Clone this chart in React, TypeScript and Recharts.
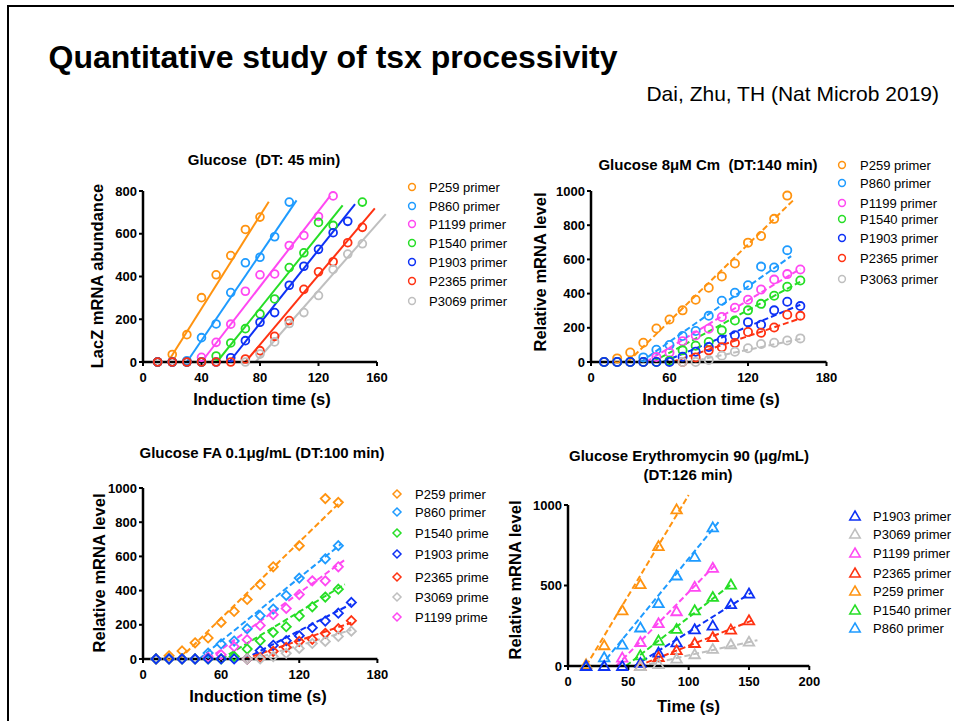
import React from 'react';
import { ScatterChart, Scatter, XAxis, YAxis, ReferenceLine } from 'recharts';

const FONT = '"Liberation Sans", Arial, Helvetica, sans-serif';

const ORANGE = '#FF9310';
const LBLUE = '#1E9BFF';
const MAGENTA = '#FF48F2';
const GREEN = '#26DE26';
const BLUE = '#0D31F5';
const RED = '#FF3212';
const GRAY = '#BFBFBF';

// ---------- Panel 1: Glucose (DT: 45 min) ----------
const p1X = [10, 20, 30, 40, 50, 60, 70, 80, 90, 100, 110, 120, 130, 140, 150];
const p1P259 = [0, 35, 128, 301, 408, 498, 620, 678];
const p1P860 = [0, 0, 6, 114, 178, 325, 464, 490, 586, 748];
const p1P1199 = [0, 0, 0, 22, 92, 177, 331, 408, 412, 545, 592, 681, 777];
const p1P1540 = [0, 0, 0, 0, 28, 89, 156, 225, 295, 442, 511, 653, 639, null, 748];
const p1P1903 = [0, 0, 0, 0, 0, 20, 100, 186, 231, 359, 448, 527, 605, 658];
const p1P2365 = [0, 0, 0, 0, 0, 0, 14, 53, 120, 194, 340, 422, 469, 558, 630];
const p1P3069 = [null, null, null, null, null, null, 0, 37, 94, 180, 231, 311, 433, 505, 553];
// fit lines: [x0, y0, x1, y1]
const p1FitP259 = [17, 0, 86, 750];
const p1FitP860 = [30, 0, 105, 756];
const p1FitP1199 = [40, 0, 128, 777];
const p1FitP1540 = [50.5, 0, 136.5, 733];
const p1FitP1903 = [59, 0, 145, 739];
const p1FitP2365 = [70, 0, 158.5, 719];
const p1FitP3069 = [77, 0, 166, 692];
const p1XTicks = [0, 40, 80, 120, 160];
const p1YTicks = [0, 200, 400, 600, 800];

// ---------- Panel 2: Glucose 8µM Cm (DT:140 min) ----------
const p2X = [10, 20, 30, 40, 50, 60, 70, 80, 90, 100, 110, 120, 130, 140, 150, 160];
const p2P259 = [0, 21, 56, 113, 196, 249, 302, 364, 434, 500, 576, 698, 737, 837, 973];
const p2P860 = [0, 0, 0, 27, 72, 99, 152, 181, 270, 358, 405, 449, 558, 553, 654];
const p2P1199 = [0, 0, 0, 0, 29, 56, 122, 155, 195, 263, 317, 364, 424, 482, 514, 541];
const p2P1540 = [0, 0, 0, 0, 0, 8, 68, 95, 117, 185, 243, 302, 340, 387, 440, 477];
const p2P1903 = [0, 0, 0, 0, 0, 0, 31, 60, 88, 130, 156, 233, 218, 302, 352, 327];
const p2P2365 = [null, null, null, null, null, null, 0, 27, 68, 86, 111, 175, 171, 202, 276, 270];
const p2P3063 = [null, null, null, null, null, null, 0, 0, 12, 37, 60, 80, 105, 113, 126, 138];
const p2FitP259 = [28, 0, 155, 949];
const p2FitP860 = [38, 0, 153, 619];
const p2FitP1199 = [42, 0, 160, 545];
const p2FitP1540 = [47, 0, 160, 470];
const p2FitP1903 = [55, 0, 160, 335];
const p2FitP2365 = [62, 0, 160, 255];
const p2FitP3063 = [75, 0, 160, 135];
const p2XTicks = [0, 60, 120, 180];
const p2YTicks = [0, 200, 400, 600, 800, 1000];

// ---------- Panel 3: Glucose FA 0.1µg/mL (DT:100 min) ----------
const p3X = [10, 20, 30, 40, 50, 60, 70, 80, 90, 100, 110, 120, 130, 140, 150, 160];
const p3P259 = [0, 19, 47, 95, 123, 214, 278, 348, 436, 539, null, 663, null, 938, 916];
const p3P860 = [0, 0, 0, 0, 35, 88, 105, 177, 253, 292, 372, 473, null, 586, 663];
const p3P1540 = [0, 0, 0, 0, 0, 0, 14, 58, 107, 156, 189, 251, 305, 362, 408];
const p3P1903 = [0, 0, 0, 0, 0, 0, 0, 0, 49, 80, 107, 136, 183, 222, 268, 331];
const p3P2365 = [null, null, null, null, null, null, null, 0, 8, 45, 68, 103, 115, 150, 177, 224];
const p3P3069 = [null, null, null, null, null, null, null, 0, 0, 14, 33, 62, 91, 103, 132, 163];
const p3P1199 = [0, 0, 0, 0, 10, 25, 72, 113, 196, 259, 296, 377, 457, 457, 539];
const p3FitP259 = [28, 0, 152, 922];
const p3FitP860 = [43, 0, 152, 672];
const p3FitP1540 = [60, 0, 155, 437];
const p3FitP1903 = [78, 0, 160, 322];
const p3FitP2365 = [78, 0, 160, 212];
const p3FitP3069 = [85, 0, 160, 170];
const p3FitP1199 = [50, 0, 155, 580];
const p3XTicks = [0, 60, 120, 180];
const p3YTicks = [0, 200, 400, 600, 800, 1000];

// ---------- Panel 4: Glucose Erythromycin 90 (µg/mL) (DT:126 min) ----------
const p4X = [15, 30, 45, 60, 75, 90, 105, 120, 135, 150];
const p4P1903 = [0, 0, 0, 19, 83, 147, 228, 251, 384, 450];
const p4P3069 = [null, null, null, 0, 12, 46, 73, 106, 135, 151];
const p4P1199 = [null, null, 52, 149, 266, 340, 492, 610];
const p4P2365 = [null, null, null, 0, 56, 98, 143, 180, 226, 284];
const p4P259 = [10, 129, 346, 508, 745, 973];
const p4P1540 = [null, null, null, 66, 158, 230, 346, 429, 506];
const p4P860 = [0, 54, 133, 239, 390, 562, 678, 861];
const p4FitP1903 = [55, 0, 152, 456];
const p4FitP3069 = [60, 0, 157, 160];
const p4FitP1199 = [40, 0, 122, 627];
const p4FitP2365 = [58, 0, 155, 290];
const p4FitP259 = [15, 0, 100, 1062];
const p4FitP1540 = [48, 0, 137, 517];
const p4FitP860 = [27, 0, 125, 896];
const p4XTicks = [0, 50, 100, 150, 200];
const p4YTicks = [0, 500, 1000];

type Series = { name: string; color: string; values: (number | null)[]; fit: number[] };

const mk = (name: string, color: string, values: (number | null)[], fit: number[]): Series => ({ name, color, values, fit });

// drawing order (legend order kept separately)
const p1Series = [
  mk('P259 primer', ORANGE, p1P259, p1FitP259),
  mk('P860 primer', LBLUE, p1P860, p1FitP860),
  mk('P1199 primer', MAGENTA, p1P1199, p1FitP1199),
  mk('P1540 primer', GREEN, p1P1540, p1FitP1540),
  mk('P1903 primer', BLUE, p1P1903, p1FitP1903),
  mk('P2365 primer', RED, p1P2365, p1FitP2365),
  mk('P3069 primer', GRAY, p1P3069, p1FitP3069),
];
const p2Series = [
  mk('P259 primer', ORANGE, p2P259, p2FitP259),
  mk('P860 primer', LBLUE, p2P860, p2FitP860),
  mk('P1199 primer', MAGENTA, p2P1199, p2FitP1199),
  mk('P1540 primer', GREEN, p2P1540, p2FitP1540),
  mk('P1903 primer', BLUE, p2P1903, p2FitP1903),
  mk('P2365 primer', RED, p2P2365, p2FitP2365),
  mk('P3063 primer', GRAY, p2P3063, p2FitP3063),
];
const p3Series = [
  mk('P259 primer', ORANGE, p3P259, p3FitP259),
  mk('P860 primer', LBLUE, p3P860, p3FitP860),
  mk('P1540 prime', GREEN, p3P1540, p3FitP1540),
  mk('P1903 prime', BLUE, p3P1903, p3FitP1903),
  mk('P2365 prime', RED, p3P2365, p3FitP2365),
  mk('P3069 prime', GRAY, p3P3069, p3FitP3069),
  mk('P1199 prime', MAGENTA, p3P1199, p3FitP1199),
];
const p3DrawOrder = [0, 1, 6, 2, 3, 4, 5];
const p4Series = [
  mk('P1903 primer', BLUE, p4P1903, p4FitP1903),
  mk('P3069 primer', GRAY, p4P3069, p4FitP3069),
  mk('P1199 primer', MAGENTA, p4P1199, p4FitP1199),
  mk('P2365 primer', RED, p4P2365, p4FitP2365),
  mk('P259 primer', ORANGE, p4P259, p4FitP259),
  mk('P1540 primer', GREEN, p4P1540, p4FitP1540),
  mk('P860 primer', LBLUE, p4P860, p4FitP860),
];
const p4DrawOrder = [4, 6, 2, 5, 0, 3, 1];

type Kind = 'circle' | 'diamond' | 'triangle';

function Marker({ kind, cx, cy, color, s, sw }: { kind: Kind; cx: number; cy: number; color: string; s: number; sw: number }) {
  if (kind === 'circle') return <circle cx={cx} cy={cy} r={s} fill="none" stroke={color} strokeWidth={sw} />;
  if (kind === 'diamond')
    return (
      <polygon
        points={`${cx},${cy - s} ${cx + s},${cy} ${cx},${cy + s} ${cx - s},${cy}`}
        fill="none"
        stroke={color}
        strokeWidth={sw}
        strokeLinejoin="miter"
      />
    );
  return (
    <polygon
      points={`${cx},${cy - s} ${cx + s * 1.05},${cy + s * 0.8} ${cx - s * 1.05},${cy + s * 0.8}`}
      fill="none"
      stroke={color}
      strokeWidth={sw}
      strokeLinejoin="miter"
    />
  );
}

type Layout = { l: number; r: number; t: number; b: number };

function Panel({
  layout,
  xs,
  series,
  order,
  xMax,
  yMax,
  xTicks,
  yTicks,
  kind,
  dashed,
  size,
}: {
  layout: Layout;
  xs: number[];
  series: Series[];
  order?: number[];
  xMax: number;
  yMax: number;
  xTicks: number[];
  yTicks: number[];
  kind: Kind;
  dashed: boolean;
  size: number;
}) {
  const Yw = 60;
  const Xh = 30;
  const mt = 20;
  const mr = 20;
  const left = layout.l - Yw;
  const top = layout.t - mt;
  const width = layout.r - left + mr;
  const height = layout.b - top + Xh;
  const idx = order || series.map((_, i) => i);
  const tickStyle = { fill: '#000', fontSize: 13, fontWeight: 'bold', fontFamily: FONT };
  return (
    <div style={{ position: 'absolute', left, top }}>
      <ScatterChart width={width} height={height} margin={{ top: mt, right: mr, bottom: 0, left: 0 }}>
        <XAxis
          type="number"
          dataKey="x"
          domain={[0, xMax]}
          ticks={xTicks}
          interval={0}
          height={Xh}
          tick={tickStyle}
          tickSize={4}
          tickMargin={7}
          axisLine={{ stroke: '#000', strokeWidth: 2.5 }}
          tickLine={{ stroke: '#000', strokeWidth: 2 }}
        />
        <YAxis
          type="number"
          dataKey="y"
          domain={[0, yMax]}
          ticks={yTicks}
          interval={0}
          width={Yw}
          tick={tickStyle}
          tickSize={4}
          tickMargin={2}
          axisLine={{ stroke: '#000', strokeWidth: 2.5 }}
          tickLine={{ stroke: '#000', strokeWidth: 2 }}
        />
        {idx.map((i) => {
          const s = series[i];
          return (
            <ReferenceLine
              key={'fit' + i}
              segment={[
                { x: s.fit[0], y: s.fit[1] },
                { x: s.fit[2], y: s.fit[3] },
              ]}
              stroke={s.color}
              strokeWidth={2}
              strokeDasharray={dashed ? '6 3' : undefined}
              ifOverflow="visible"
            />
          );
        })}
        {idx.map((i) => {
          const s = series[i];
          const data = s.values
            .map((v, j) => ({ x: xs[j], y: v }))
            .filter((d) => d.y !== null && d.y !== undefined);
          return (
            <Scatter
              key={'pts' + i}
              name={s.name}
              data={data}
              isAnimationActive={false}
              shape={(p: any) => <Marker kind={kind} cx={p.cx} cy={p.cy} color={s.color} s={size} sw={1.8} />}
            />
          );
        })}
      </ScatterChart>
    </div>
  );
}

function Txt({
  x,
  y,
  size,
  bold,
  anchor = 'middle',
  rotate = false,
  children,
}: {
  x: number;
  y: number;
  size: number;
  bold?: boolean;
  anchor?: 'start' | 'middle' | 'end';
  rotate?: boolean;
  children: React.ReactNode;
}) {
  const tx = anchor === 'middle' ? '-50%' : anchor === 'end' ? '-100%' : '0';
  return (
    <div
      style={{
        position: 'absolute',
        left: x,
        top: y,
        transform: `translate(${tx},-50%)${rotate ? ' rotate(-90deg)' : ''}`,
        fontSize: size,
        fontWeight: bold ? 'bold' : 'normal',
        lineHeight: 1,
        whiteSpace: 'nowrap',
        color: '#000',
        fontFamily: FONT,
      }}
    >
      {children}
    </div>
  );
}

function Legend({ series, mx, tx, rows, kind, size }: { series: Series[]; mx: number; tx: number; rows: number[]; kind: Kind; size: number }) {
  return (
    <>
      {series.map((s, i) => (
        <React.Fragment key={i}>
          <svg width={16} height={16} style={{ position: 'absolute', left: mx - 8, top: rows[i] - 8 }}>
            <Marker kind={kind} cx={8} cy={8} color={s.color} s={size} sw={1.5} />
          </svg>
          <Txt x={tx} y={rows[i]} size={13} anchor="start">
            {s.name}
          </Txt>
        </React.Fragment>
      ))}
    </>
  );
}

export default function App() {
  return (
    <div
      style={{
        position: 'absolute',
        left: 0,
        top: 0,
        width: 954,
        height: 721,
        background: '#fff',
        overflow: 'hidden',
        fontFamily: FONT,
      }}
    >
      <div
        style={{
          position: 'absolute',
          left: 7,
          top: 5,
          width: 954,
          height: 721,
          borderTop: '2px solid #000',
          borderLeft: '2px solid #000',
        }}
      />
      <Txt x={48.5} y={56.5} size={32} bold anchor="start">
        Quantitative study of tsx processivity
      </Txt>
      <Txt x={939} y={93} size={21} anchor="end">
        Dai, Zhu, TH (Nat Microb 2019)
      </Txt>

      {/* Panel 1 */}
      <Txt x={264} y={159} size={15} bold>
        Glucose&nbsp;&nbsp;(DT: 45 min)
      </Txt>
      <Panel
        layout={{ l: 143, r: 377, t: 191, b: 362 }}
        xs={p1X}
        series={p1Series}
        xMax={160}
        yMax={800}
        xTicks={p1XTicks}
        yTicks={p1YTicks}
        kind="circle"
        dashed={false}
        size={3.9}
      />
      <Txt x={97} y={276} size={16.5} bold rotate>
        LacZ mRNA abundance
      </Txt>
      <Txt x={262} y={399} size={16.5} bold>
        Induction time (s)
      </Txt>
      <Legend series={p1Series} mx={411.5} tx={429} rows={[187, 206, 224, 243, 262, 281, 301]} kind="circle" size={3.4} />

      {/* Panel 2 */}
      <Txt x={708} y={164} size={15} bold>
        Glucose 8μM Cm&nbsp;&nbsp;(DT:140 min)
      </Txt>
      <Panel
        layout={{ l: 591, r: 826.5, t: 191, b: 362 }}
        xs={p2X}
        series={p2Series}
        xMax={180}
        yMax={1000}
        xTicks={p2XTicks}
        yTicks={p2YTicks}
        kind="circle"
        dashed
        size={4.1}
      />
      <Txt x={540} y={272} size={16.5} bold rotate>
        Relative mRNA level
      </Txt>
      <Txt x={711} y={398.5} size={16.5} bold>
        Induction time (s)
      </Txt>
      <Legend series={p2Series} mx={842} tx={860} rows={[165, 183, 203, 219, 238, 258, 279]} kind="circle" size={3.4} />

      {/* Panel 3 */}
      <Txt x={262} y={452} size={15} bold>
        Glucose FA 0.1μg/mL (DT:100 min)
      </Txt>
      <Panel
        layout={{ l: 143.3, r: 377.7, t: 488, b: 659 }}
        xs={p3X}
        series={p3Series}
        order={p3DrawOrder}
        xMax={180}
        yMax={1000}
        xTicks={p3XTicks}
        yTicks={p3YTicks}
        kind="diamond"
        dashed
        size={4.6}
      />
      <Txt x={99} y={573} size={16.5} bold rotate>
        Relative mRNA level
      </Txt>
      <Txt x={258} y={695.5} size={16.5} bold>
        Induction time (s)
      </Txt>
      <Legend series={p3Series} mx={397} tx={415} rows={[494, 512, 533, 554, 577, 597, 617]} kind="diamond" size={4} />

      {/* Panel 4 */}
      <Txt x={689} y={455} size={15} bold>
        Glucose Erythromycin 90 (μg/mL)
      </Txt>
      <Txt x={688} y={474} size={15} bold>
        (DT:126 min)
      </Txt>
      <Panel
        layout={{ l: 568, r: 809.3, t: 505, b: 666 }}
        xs={p4X}
        series={p4Series}
        order={p4DrawOrder}
        xMax={200}
        yMax={1000}
        xTicks={p4XTicks}
        yTicks={p4YTicks}
        kind="triangle"
        dashed
        size={5}
      />
      <Txt x={515} y={580} size={16.5} bold rotate>
        Relative mRNA level
      </Txt>
      <Txt x={688.5} y={706} size={16.5} bold>
        Time (s)
      </Txt>
      <Legend series={p4Series} mx={855} tx={873} rows={[516, 534, 553, 573, 591, 610, 628]} kind="triangle" size={5} />
    </div>
  );
}
